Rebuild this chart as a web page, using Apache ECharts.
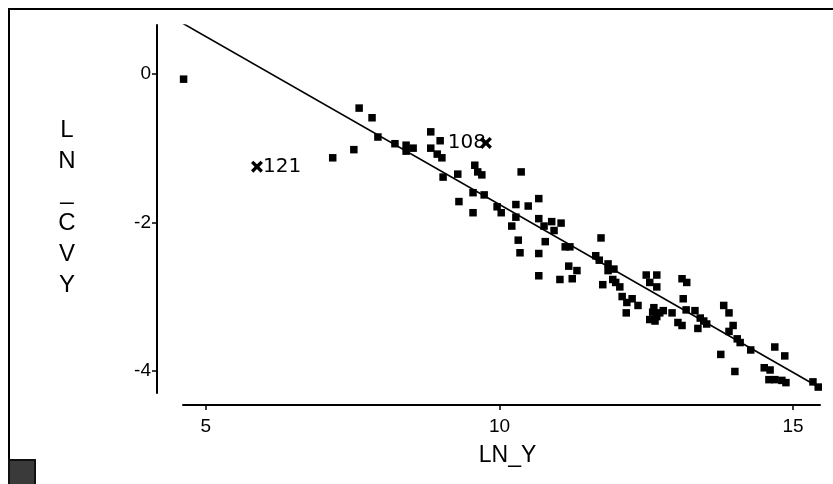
<!DOCTYPE html>
<html>
<head>
<meta charset="utf-8">
<script src="https://cdn.jsdelivr.net/npm/echarts@6/dist/echarts.min.js"></script>
<style>
  html, body { margin: 0; padding: 0; background: #fff; }
  #chart { width: 833px; height: 484px; }
</style>
</head>
<body>
<div id="chart"></div>
<script>
// Observations: log of Y against log of CV of Y
const lnY = [
  4.62, 7.61, 7.83, 7.16, 7.52, 7.93, 8.22, 8.41, 8.53, 8.41,
  8.83, 8.99, 8.83, 8.94, 9.02, 9.04, 9.29, 9.58, 9.63, 9.70,
  10.37, 9.55, 9.74, 9.31, 9.55, 9.96, 10.03, 10.28, 10.49, 10.67,
  10.28, 10.21, 10.67, 10.76, 10.89, 11.05, 10.93, 10.78, 10.32, 10.35,
  10.67, 11.12, 11.20, 11.73, 11.18, 11.32, 10.67, 11.03, 11.24, 11.64,
  11.70, 11.85, 11.85, 11.95, 11.93, 11.76, 12.05, 12.09, 11.98, 12.17,
  12.26, 12.16, 12.36, 12.50, 12.56, 12.68, 12.68, 12.63, 12.61, 12.73,
  12.79, 12.94, 12.68, 12.56, 12.65, 13.11, 13.19, 13.13, 13.18, 13.33,
  13.04, 13.11, 13.42, 13.48, 13.38, 13.53, 13.82, 13.91, 13.98, 13.91,
  14.05, 14.10, 14.28, 13.77, 14.01, 14.69, 14.86, 14.51, 14.61, 14.59,
  14.69, 14.81, 14.88, 15.34, 15.43
];
const lnCvy = [
  -0.07, -0.46, -0.59, -1.13, -1.02, -0.85, -0.94, -0.96, -1.00, -1.04,
  -0.78, -0.90, -1.00, -1.08, -1.13, -1.39, -1.35, -1.23, -1.32, -1.36,
  -1.32, -1.60, -1.63, -1.72, -1.87, -1.79, -1.87, -1.76, -1.78, -1.68,
  -1.93, -2.05, -1.95, -2.05, -1.99, -2.01, -2.11, -2.26, -2.24, -2.41,
  -2.42, -2.33, -2.33, -2.21, -2.59, -2.65, -2.72, -2.77, -2.76, -2.45,
  -2.51, -2.56, -2.65, -2.63, -2.77, -2.84, -2.87, -3.00, -2.81, -3.08,
  -3.03, -3.22, -3.12, -2.71, -2.81, -2.71, -2.87, -3.15, -3.21, -3.22,
  -3.19, -3.22, -3.27, -3.31, -3.33, -2.76, -2.81, -3.03, -3.18, -3.19,
  -3.35, -3.39, -3.29, -3.33, -3.43, -3.37, -3.12, -3.22, -3.39, -3.47,
  -3.57, -3.62, -3.72, -3.78, -4.01, -3.68, -3.80, -3.96, -3.99, -4.12,
  -4.12, -4.13, -4.16, -4.15, -4.22
];

// Flagged observations drawn with a cross and their case number
const flaggedIds = ['121', '108'];
const flaggedLnY = [5.87, 9.77];
const flaggedLnCvy = [-1.25, -0.93];

// Fitted regression line, end points
const fitLnY = [4.60, 15.45];
const fitLnCvy = [0.685, -4.226];

const xTicks = [5, 10, 15];
const yTicks = [0, -2, -4];

const FONT = '"Liberation Sans", Arial, sans-serif';
const CROSS = 'path://M0,2 L2,0 L5,3 L8,0 L10,2 L7,5 L10,8 L8,10 L5,7 L2,10 L0,8 L3,5 Z';

const chart = echarts.init(document.getElementById('chart'), null, { renderer: 'canvas' });

chart.setOption({
  animation: false,
  backgroundColor: '#fff',
  grid: { left: 183, right: 13, top: 25, bottom: 91 },
  xAxis: {
    type: 'value',
    min: 4.61,
    max: 15.46,
    offset: 12,
    name: 'LN_Y',
    nameLocation: 'middle',
    nameGap: 39,
    nameTextStyle: { color: '#000', fontSize: 23, fontFamily: FONT, padding: [0, 0, 0, 12] },
    axisLine: { show: true, onZero: false, lineStyle: { color: '#000', width: 2 } },
    axisTick: { show: true, length: 5, customValues: xTicks, lineStyle: { color: '#000', width: 1.5 } },
    axisLabel: { customValues: xTicks, color: '#000', fontSize: 19, fontFamily: FONT, margin: 12 },
    splitLine: { show: false }
  },
  yAxis: {
    type: 'value',
    min: -4.30,
    max: 0.66,
    offset: 26,
    axisLine: { show: true, onZero: false, lineStyle: { color: '#000', width: 2 } },
    axisTick: { show: true, length: 5, customValues: yTicks, lineStyle: { color: '#000', width: 1.5 } },
    axisLabel: { customValues: yTicks, color: '#000', fontSize: 19, fontFamily: FONT, margin: 6,
      formatter: v => String(v) },
    splitLine: { show: false }
  },
  graphic: [
    { type: 'line', shape: { x1: 8, y1: 9, x2: 833, y2: 9 }, style: { stroke: '#000', lineWidth: 2 } },
    { type: 'line', shape: { x1: 9, y1: 9, x2: 9, y2: 460 }, style: { stroke: '#000', lineWidth: 2 } },
    { type: 'rect', shape: { x: 9, y: 460, width: 26, height: 26 },
      style: { fill: '#3a3a3a', stroke: '#111', lineWidth: 2 } },
    { type: 'text', x: 67, y: 115,
      style: { text: 'L\nN\n_\nC\nV\nY', fill: '#000', fontSize: 24, fontFamily: FONT,
        textAlign: 'center', textVerticalAlign: 'top', lineHeight: 31 } }
  ],
  series: [
    {
      type: 'line',
      data: fitLnY.map((x, i) => [x, fitLnCvy[i]]),
      showSymbol: false,
      lineStyle: { color: '#000', width: 1.6 },
      z: 3
    },
    {
      type: 'scatter',
      data: lnY.map((x, i) => [x, lnCvy[i]]),
      symbol: 'rect',
      symbolSize: 7.5,
      itemStyle: { color: '#000', opacity: 1 },
      z: 4
    },
    {
      type: 'scatter',
      data: flaggedLnY.map((x, i) => ({
        value: [x, flaggedLnCvy[i]],
        label: i === 0
          ? { show: true, position: 'right', distance: 0 }
          : { show: true, position: 'left', distance: -6 }
      })),
      symbol: CROSS,
      symbolSize: 12,
      itemStyle: { color: '#000', opacity: 1 },
      label: {
        formatter: p => flaggedIds[p.dataIndex],
        color: '#000',
        fontSize: 20,
        fontFamily: '"DejaVu Sans", sans-serif'
      },
      z: 5
    }
  ]
});
</script>
</body>
</html>
